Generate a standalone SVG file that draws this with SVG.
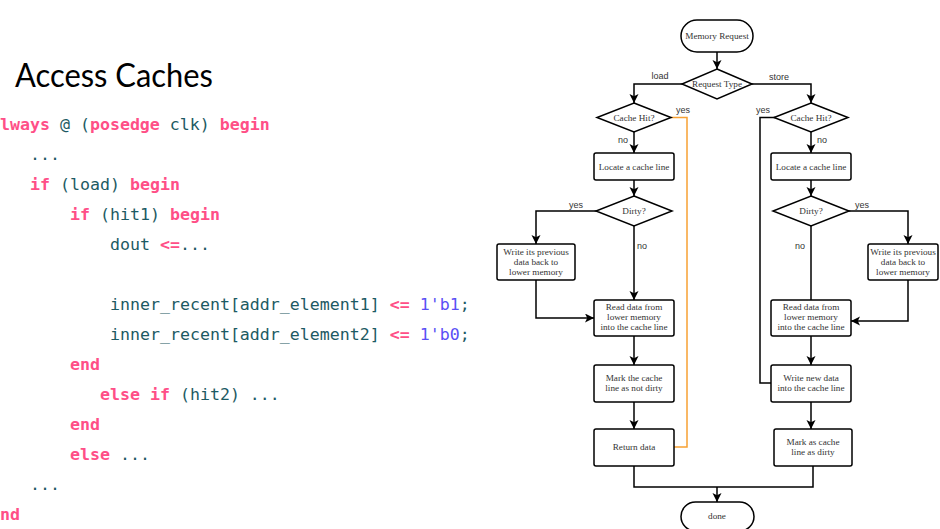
<svg xmlns="http://www.w3.org/2000/svg" width="940" height="529" viewBox="0 0 940 529">
<defs>
<marker id="arr" markerUnits="userSpaceOnUse" markerWidth="11" markerHeight="11" refX="9" refY="4.5" orient="auto">
<path d="M0,0 L9,4.5 L0,9 L2.2,4.5 z" fill="#000"/>
</marker>
</defs>
<style>
.code{font-family:"DejaVu Sans Mono","Liberation Mono",monospace;font-size:16.6px;fill:#1d5a63;white-space:pre}
.k{fill:#ff4f87;font-weight:bold}
.n{fill:#5a4ff5}
.node rect,.node path{fill:#fff;stroke:#000;stroke-width:1.5}
.node text{font-family:"Liberation Serif","Times New Roman",serif;font-size:9.2px;fill:#333;text-anchor:middle}
.conn path{fill:none;stroke:#000;stroke-width:1.5}
.conn .orange{stroke:#f7a133}
.lbl{font-family:"Liberation Sans",Arial,sans-serif;font-size:9px;fill:#333;text-anchor:middle}
</style>
<rect width="940" height="529" fill="#fff"/>

<text x="15" y="87" font-family="Lato,'Open Sans',sans-serif" font-size="33" fill="#000" textLength="198" lengthAdjust="spacingAndGlyphs">Access Caches</text>

<g id="code" class="code" xml:space="preserve">
<text x="-10" y="130"><tspan class="k">always</tspan> @ (<tspan class="k">posedge</tspan> clk) <tspan class="k">begin</tspan></text>
<text x="30" y="160">...</text>
<text x="30" y="190"><tspan class="k">if</tspan> (load) <tspan class="k">begin</tspan></text>
<text x="70" y="220"><tspan class="k">if</tspan> (hit1) <tspan class="k">begin</tspan></text>
<text x="110" y="250">dout <tspan class="k">&lt;=</tspan>...</text>
<text x="110" y="310">inner_recent[addr_element1] <tspan class="k">&lt;=</tspan> <tspan class="n">1'b1</tspan>;</text>
<text x="110" y="340">inner_recent[addr_element2] <tspan class="k">&lt;=</tspan> <tspan class="n">1'b0</tspan>;</text>
<text x="70" y="370" class="k">end</text>
<text x="100" y="400"><tspan class="k">else if</tspan> (hit2) ...</text>
<text x="70" y="430" class="k">end</text>
<text x="70" y="460"><tspan class="k">else</tspan> ...</text>
<text x="30" y="490">...</text>
<text x="-10" y="520" class="k">end</text>
</g>

<g id="connectors" class="conn">
<path d="M717,52 V69" marker-end="url(#arr)"/>
<path d="M682,84 H634 V103" marker-end="url(#arr)"/>
<path d="M752,84 H811 V103" marker-end="url(#arr)"/>
<path d="M634,132 V153" marker-end="url(#arr)"/>
<path d="M811,132 V153" marker-end="url(#arr)"/>
<path d="M634,180 V196" marker-end="url(#arr)"/>
<path d="M811,180 V196" marker-end="url(#arr)"/>
<path d="M598,211 H536 V244" marker-end="url(#arr)"/>
<path d="M634,226 V300" marker-end="url(#arr)"/>
<path d="M536,280 V318 H594" marker-end="url(#arr)"/>
<path d="M634,336 V365" marker-end="url(#arr)"/>
<path d="M634,402 V429" marker-end="url(#arr)"/>
<path class="orange" d="M671,117.5 H687 V447 H674"/>
<path d="M848,211 H908 V244" marker-end="url(#arr)"/>
<path d="M811,226 V300"/>
<path d="M908,280 V321 H851" marker-end="url(#arr)"/>
<path d="M811,336 V365" marker-end="url(#arr)"/>
<path d="M775,117.5 H760 V383 H771"/>
<path d="M811,402 V429" marker-end="url(#arr)"/>
<path d="M634,466 V487 H813 V466"/>
<path d="M717,487 V502" marker-end="url(#arr)"/>
</g>

<g id="labels">
<text class="lbl" x="660" y="79">load</text>
<text class="lbl" x="779" y="80">store</text>
<text class="lbl" x="683" y="113">yes</text>
<text class="lbl" x="763" y="113">yes</text>
<text class="lbl" x="623" y="143">no</text>
<text class="lbl" x="822" y="143">no</text>
<text class="lbl" x="576" y="208">yes</text>
<text class="lbl" x="642" y="249">no</text>
<text class="lbl" x="862" y="208">yes</text>
<text class="lbl" x="800" y="249">no</text>
</g>

<g id="memory-request" class="node">
<rect x="681" y="20" width="72" height="32" rx="16"/>
<text x="717" y="39">Memory Request</text>
</g>
<g id="request-type" class="node">
<path d="M717,69 L752,84 L717,99 L682,84 Z"/>
<text x="717" y="87">Request Type</text>
</g>
<g id="cache-hit-load" class="node">
<path d="M634,103 L671,117.5 L634,132 L597,117.5 Z"/>
<text x="634" y="120.5">Cache Hit?</text>
</g>
<g id="cache-hit-store" class="node">
<path d="M811,103 L848,117.5 L811,132 L774,117.5 Z"/>
<text x="811" y="120.5">Cache Hit?</text>
</g>
<g id="locate-load" class="node">
<rect x="594" y="153" width="80" height="27" rx="2"/>
<text x="634" y="169.5">Locate a cache line</text>
</g>
<g id="locate-store" class="node">
<rect x="771" y="153" width="80" height="27" rx="2"/>
<text x="811" y="169.5">Locate a cache line</text>
</g>
<g id="dirty-load" class="node">
<path d="M634,196 L672,211 L634,226 L596,211 Z"/>
<text x="634" y="214">Dirty?</text>
</g>
<g id="dirty-store" class="node">
<path d="M811,196 L849,211 L811,226 L773,211 Z"/>
<text x="811" y="214">Dirty?</text>
</g>
<g id="writeback-load" class="node">
<rect x="497" y="244" width="78" height="36" rx="2"/>
<text x="536" y="255">Write its previous</text>
<text x="536" y="265">data back to</text>
<text x="536" y="275">lower memory</text>
</g>
<g id="writeback-store" class="node">
<rect x="868" y="244" width="70" height="36" rx="2"/>
<text x="903" y="255">Write its previous</text>
<text x="903" y="265">data back to</text>
<text x="903" y="275">lower memory</text>
</g>
<g id="read-load" class="node">
<rect x="594" y="300" width="80" height="36" rx="2"/>
<text x="634" y="310">Read data from</text>
<text x="634" y="320">lower memory</text>
<text x="634" y="330">into the cache line</text>
</g>
<g id="read-store" class="node">
<rect x="771" y="300" width="80" height="36" rx="2"/>
<text x="811" y="310">Read data from</text>
<text x="811" y="320">lower memory</text>
<text x="811" y="330">into the cache line</text>
</g>
<g id="mark-not-dirty" class="node">
<rect x="594" y="365" width="80" height="37" rx="2"/>
<text x="634" y="381">Mark the cache</text>
<text x="634" y="391">line as not dirty</text>
</g>
<g id="write-new" class="node">
<rect x="771" y="365" width="80" height="37" rx="2"/>
<text x="811" y="381">Write new data</text>
<text x="811" y="391">into the cache line</text>
</g>
<g id="return-data" class="node">
<rect x="594" y="429" width="80" height="37" rx="2"/>
<text x="634" y="450">Return data</text>
</g>
<g id="mark-dirty" class="node">
<rect x="774" y="429" width="78" height="37" rx="2"/>
<text x="813" y="445">Mark as cache</text>
<text x="813" y="455">line as dirty</text>
</g>
<g id="done" class="node">
<rect x="681" y="502" width="73" height="29" rx="14.5"/>
<text x="717" y="519">done</text>
</g>
</svg>
